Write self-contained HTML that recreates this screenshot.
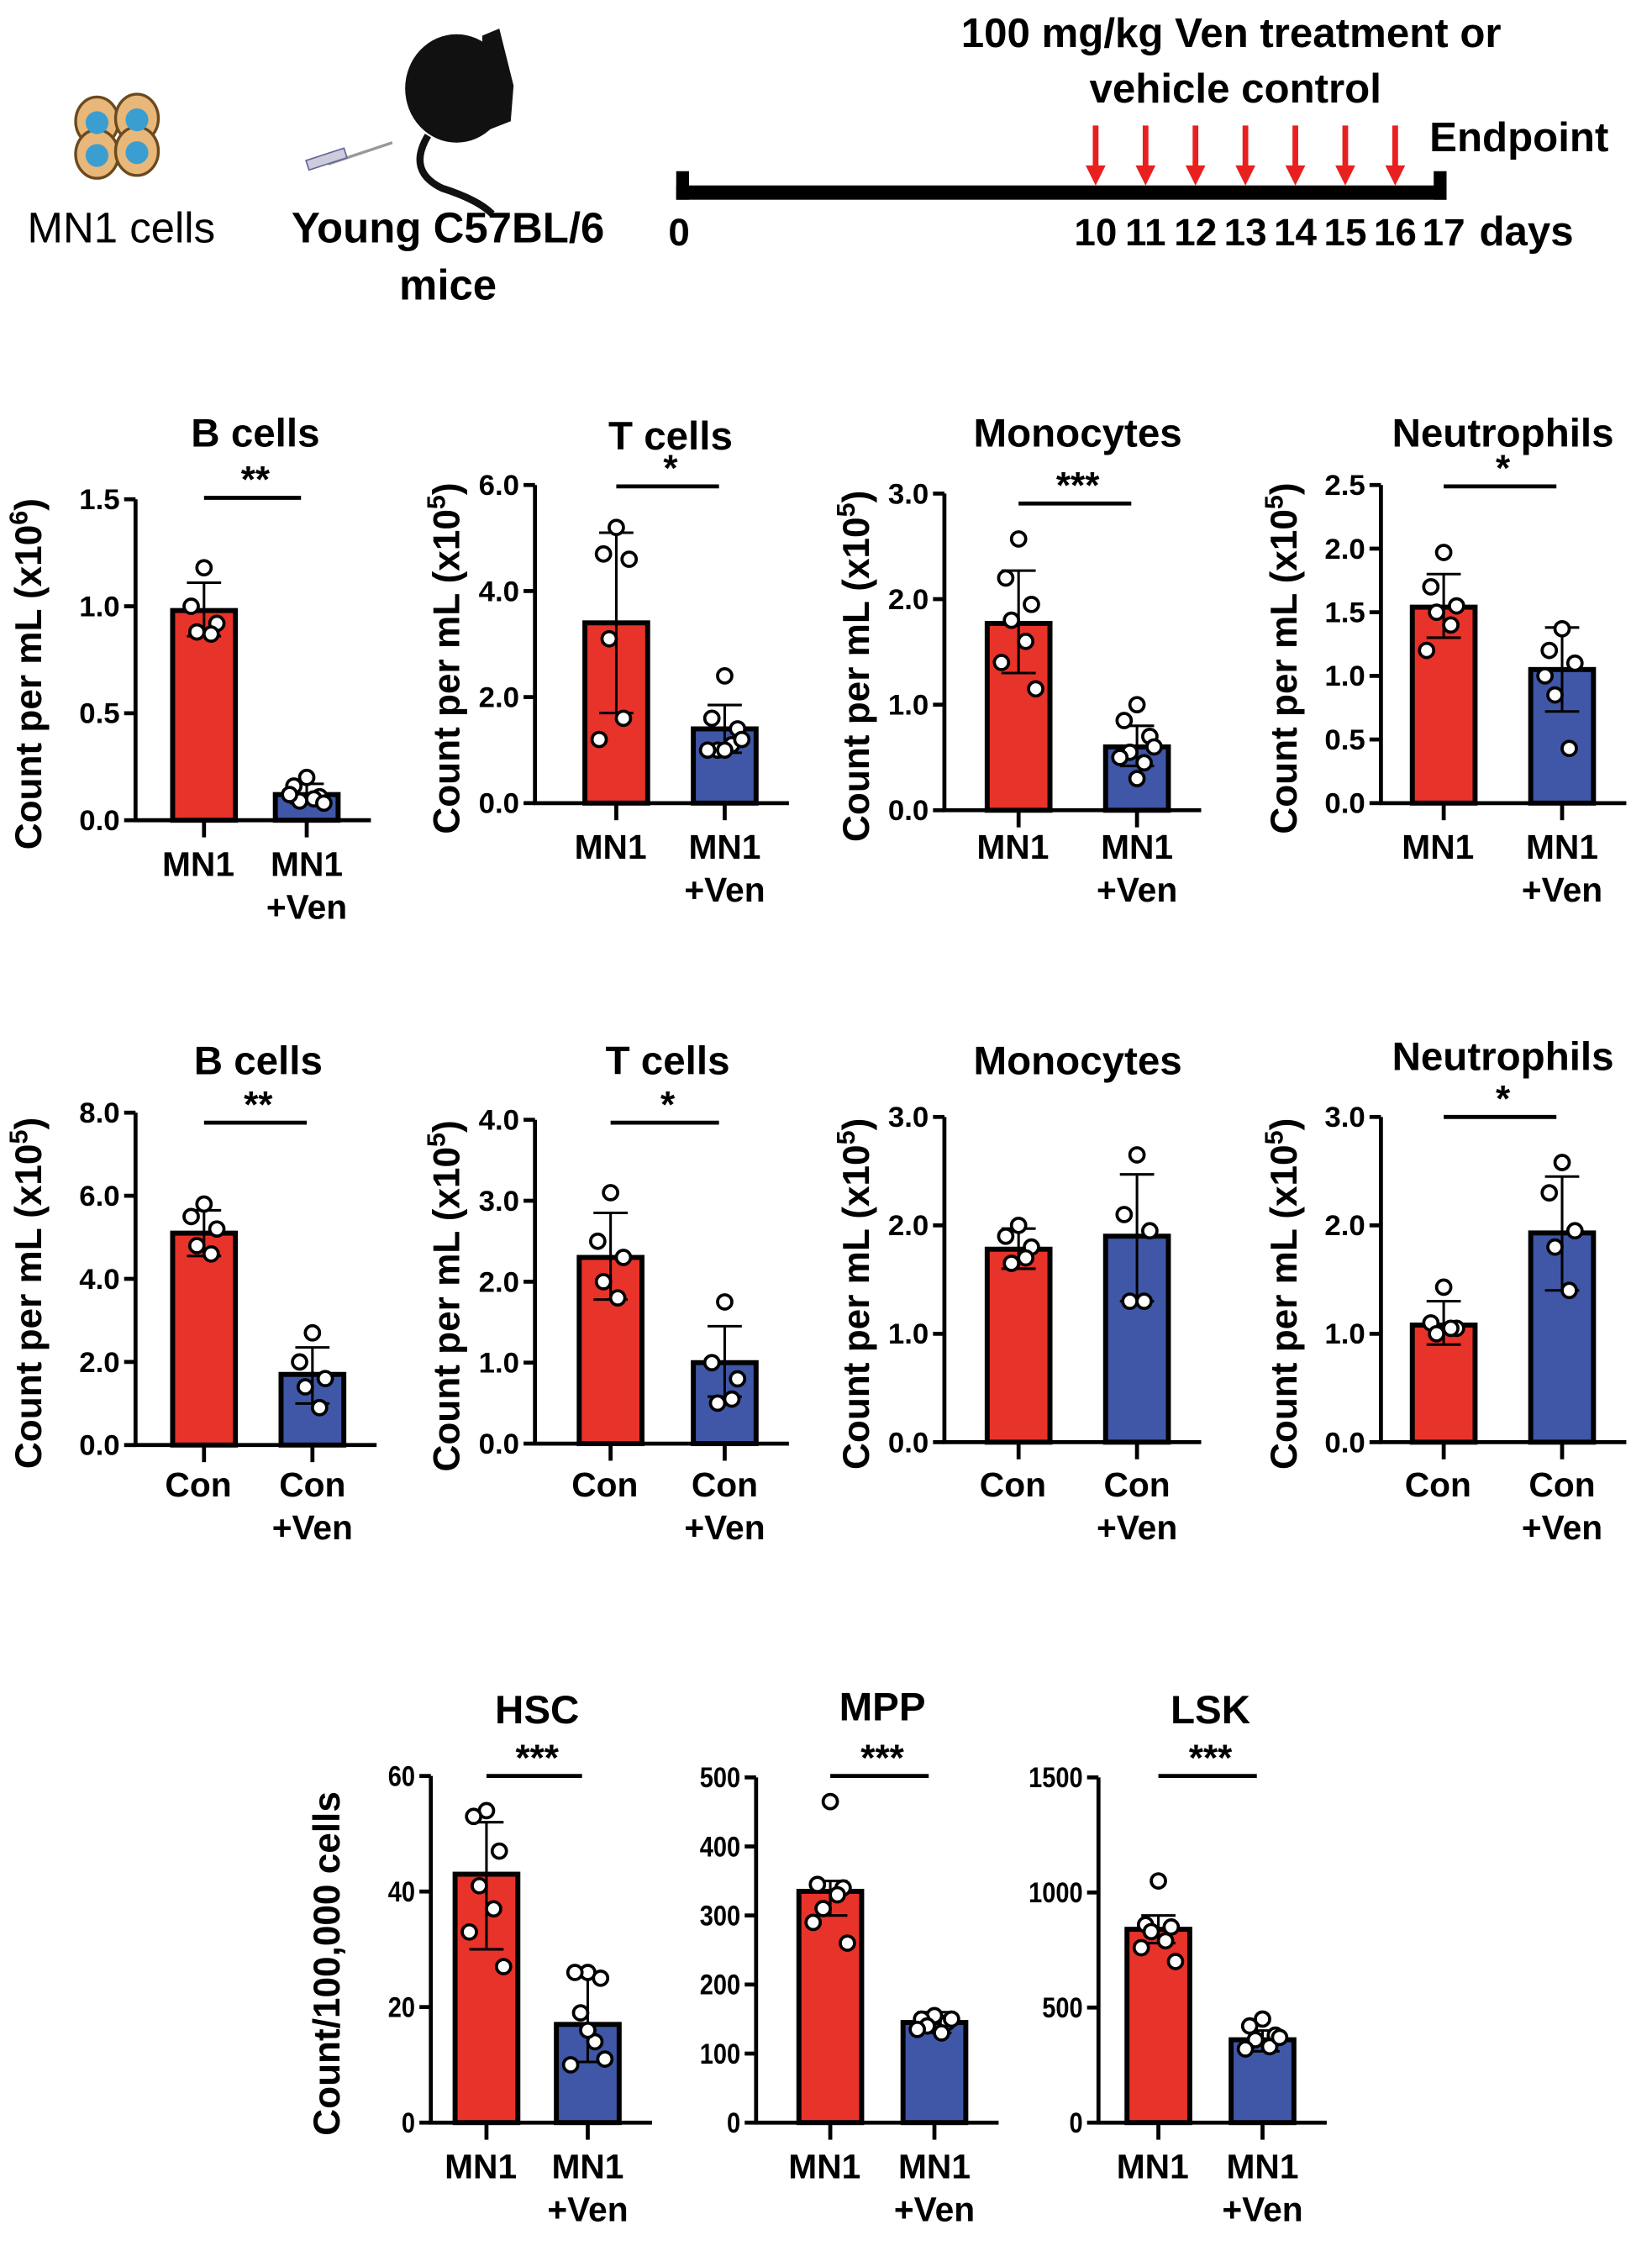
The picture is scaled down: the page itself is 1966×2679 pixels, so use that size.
<!DOCTYPE html>
<html><head><meta charset="utf-8"><style>
html,body{margin:0;padding:0;background:#fff;}
svg{display:block;}
text{font-family:"Liberation Sans",Arial,sans-serif;font-weight:bold;fill:#000;}
</style></head><body>
<svg id="fig" width="1966" height="2679" viewBox="0 0 1158 1578" xmlns="http://www.w3.org/2000/svg">
<g>
  <g>
    <ellipse cx="68" cy="85" rx="15" ry="17" fill="#e8b77a" stroke="#6b4a1e" stroke-width="2"/>
    <ellipse cx="96" cy="83" rx="15" ry="17" fill="#e8b77a" stroke="#6b4a1e" stroke-width="2"/>
    <ellipse cx="68" cy="108" rx="15" ry="17" fill="#e8b77a" stroke="#6b4a1e" stroke-width="2"/>
    <ellipse cx="96" cy="106" rx="15" ry="17" fill="#e8b77a" stroke="#6b4a1e" stroke-width="2"/>
    <circle cx="68" cy="86" r="8" fill="#3b9ed0"/><circle cx="96" cy="84" r="8" fill="#3b9ed0"/>
    <circle cx="68" cy="109" r="8" fill="#3b9ed0"/><circle cx="96" cy="107" r="8" fill="#3b9ed0"/>
  </g>
  <text x="85" y="170" font-size="30" text-anchor="middle" style="font-weight:normal">MN1 cells</text>
  <g>
    <ellipse cx="320" cy="62" rx="36" ry="38" fill="#111"/>
    <path d="M338 25 L350 20 L360 60 L358 85 L340 92 Z" fill="#111"/>
    <path d="M300 95 Q285 120 310 132 Q335 140 345 150" stroke="#111" stroke-width="5" fill="none"/>
    <line x1="275" y1="100" x2="230" y2="115" stroke="#999" stroke-width="2"/>
    <rect x="215" y="108" width="28" height="7" fill="#ccd" stroke="#669" transform="rotate(-18 229 112)"/>
  </g>
  <text x="314" y="170" font-size="30" text-anchor="middle">Young C57BL/6</text>
  <text x="314" y="210" font-size="30" text-anchor="middle">mice</text>
  <text x="863" y="33" font-size="29" text-anchor="middle">100 mg/kg Ven treatment or</text>
  <text x="866" y="72" font-size="29" text-anchor="middle">vehicle control</text>
  <text x="1002" y="106" font-size="29">Endpoint</text>
  <g>
    <rect x="474" y="130" width="540" height="10" fill="#000"/>
    <rect x="474" y="120" width="9" height="20" fill="#000"/>
    <rect x="1005" y="120" width="9" height="20" fill="#000"/>
  </g>
  <g id="arrows"></g>
  <g id="days"></g>
</g>
<g id="charts"></g>
</svg>
<script>
// timeline data
const doseDays = [10,11,12,13,14,15,16];
const dayLabels = ["0","10","11","12","13","14","15","16","17"];
const dayPositions = [476,768,803,838,873,908,943,978,1012];

// chart data (one set of arrays per chart)
const titles = ["B cells","T cells","Monocytes","Neutrophils","B cells","T cells","Monocytes","Neutrophils","HSC","MPP","LSK"];
const yTitles = ["Count per mL (x10","Count per mL (x10","Count per mL (x10","Count per mL (x10","Count per mL (x10","Count per mL (x10","Count per mL (x10","Count per mL (x10","Count/100,000 cells","",""];
const yExps = ["6","5","5","5","5","5","5","5","","",""];
const yMax = [1.5,6,3,2.5,8,4,3,3,60,500,1500];
const yTicks = [[0,0.5,1,1.5],[0,2,4,6],[0,1,2,3],[0,0.5,1,1.5,2,2.5],[0,2,4,6,8],[0,1,2,3,4],[0,1,2,3],[0,1,2,3],[0,20,40,60],[0,100,200,300,400,500],[0,500,1000,1500]];
const tickDecimals = [1,1,1,1,1,1,1,1,0,0,0];
const groupA = ["MN1","MN1","MN1","MN1","Con","Con","Con","Con","MN1","MN1","MN1"];
const groupB = ["MN1","MN1","MN1","MN1","Con","Con","Con","Con","MN1","MN1","MN1"];
const sig = ["**","*","***","*","**","*","","*","***","***","***"];
const meanA = [0.98,3.4,1.77,1.54,5.1,2.3,1.78,1.08,43,335,840];
const errA = [[0.86,1.11],[1.7,5.1],[1.3,2.27],[1.3,1.8],[4.55,5.65],[1.78,2.85],[1.6,1.97],[0.9,1.3],[30,52],[300,350],[780,900]];
const ptsA = [[1.18,1.0,0.92,0.88,0.87],[5.2,4.7,4.6,3.1,1.6,1.2],[2.57,2.2,1.95,1.8,1.6,1.4,1.15],[1.97,1.7,1.55,1.5,1.4,1.2],[5.8,5.5,5.2,4.8,4.6],[3.1,2.5,2.3,2.0,1.8],[2.0,1.9,1.8,1.65,1.7],[1.43,1.1,1.05,1.0,1.05],[54,53,47,41,37,33,27],[465,345,340,310,330,290,260],[1050,860,850,830,790,760,700]];
const meanB = [0.12,1.4,0.6,1.05,1.7,1.0,1.9,1.93,17,145,360];
const errB = [[0.08,0.17],[0.95,1.85],[0.42,0.8],[0.72,1.38],[1.0,2.35],[0.58,1.45],[1.3,2.47],[1.4,2.45],[10.5,25.5],[130,160],[310,400]];
const ptsB = [[0.2,0.16,0.11,0.09,0.1,0.12,0.08],[2.4,1.6,1.4,1.0,1.1,1.0,1.2,1.0],[1.0,0.85,0.7,0.55,0.45,0.5,0.6,0.3],[1.37,1.2,1.1,0.85,0.43,1.0],[2.7,2.0,1.6,1.4,0.9],[1.75,1.0,0.8,0.5,0.55],[2.65,2.1,1.95,1.3,1.3],[2.58,2.3,1.95,1.8,1.4],[26,26,25,19,14,10,11,16],[155,150,145,140,130,135,150],[450,420,380,360,330,320,370]];
</script>
<script>
const NS="http://www.w3.org/2000/svg";
function mk(tag,attrs,parent,txt){const e=document.createElementNS(NS,tag);for(const k in attrs)e.setAttribute(k,attrs[k]);if(txt!==undefined)e.textContent=txt;parent.appendChild(e);return e;}
const arrG=document.getElementById('arrows');
doseDays.forEach((d,i)=>{
  const x=dayPositions[i+1];
  const g=mk('g',{},arrG);
  
  
  mk('line',{x1:x,y1:88,x2:x,y2:118,stroke:'#e8201f','stroke-width':4},g);
  mk('polygon',{points:(x-7)+',116 '+(x+7)+',116 '+x+',130',fill:'#e8201f'},g);
});
const dG=document.getElementById('days');
dayLabels.forEach((l,i)=>{
  const t=mk('text',{x:dayPositions[i],y:172,'font-size':27,'text-anchor':'middle'},dG,l);
  
  
});
const dt=mk('text',{x:1070,y:172,'font-size':29,'text-anchor':'middle'},dG,'days');



const L=[
 {ax:95,y0:575,yt:350,ca:143,cb:215,ty:313,sy:349,lx:20,xl:614},
 {ax:375,y0:563,yt:340,ca:432,cb:508,ty:315,sy:341,lx:313,xl:602},
 {ax:662,y0:568,yt:346,ca:714,cb:797,ty:313,sy:353,lx:600,xl:602},
 {ax:968,y0:563,yt:340,ca:1012,cb:1095,ty:313,sy:341,lx:900,xl:602},
 {ax:95,y0:1013,yt:780,ca:143,cb:219,ty:753,sy:787,lx:20,xl:1049},
 {ax:375,y0:1012,yt:785,ca:428,cb:508,ty:753,sy:787,lx:313,xl:1049},
 {ax:662,y0:1011,yt:783,ca:714,cb:797,ty:753,sy:0,lx:600,xl:1049},
 {ax:968,y0:1011,yt:783,ca:1012,cb:1095,ty:750,sy:783,lx:900,xl:1049},
 {ax:302,y0:1488,yt:1245,ca:341,cb:412,ty:1208,sy:1245,lx:229,xl:1527},
 {ax:530,y0:1488,yt:1246,ca:582,cb:655,ty:1206,sy:1245,lx:0,xl:1527},
 {ax:770,y0:1488,yt:1246,ca:812,cb:885,ty:1208,sy:1245,lx:0,xl:1527}];
const root=document.getElementById('charts');
const jit=[0,-9,9,-5,5,-12,12,0];
titles.forEach((title,i)=>{
  const p=L[i];
  const g=mk('g',{},root);
  
  
  const y=v=>p.y0-(v/yMax[i])*(p.y0-p.yt);
  const right=p.cb+45;
  const bw=44;
  const tt=mk('text',{x:(p.ca+p.cb)/2,y:p.ty,'font-size':28,'text-anchor':'middle'},g,title);
  
  
  [[meanA,errA,ptsA,p.ca,'#e8332a','bar-group-a'],[meanB,errB,ptsB,p.cb,'#3f57a6','bar-group-b']].forEach(([m,e,pts,c,col,nm])=>{
    const r=mk('rect',{x:c-bw/2,y:y(m[i]),width:bw,height:p.y0-y(m[i]),fill:col,stroke:'#000','stroke-width':3.5},g);
    
    
    const eg=mk('g',{stroke:'#000','stroke-width':1.8},g);
    
    
    mk('line',{x1:c,y1:y(e[i][0]),x2:c,y2:y(e[i][1])},eg);
    mk('line',{x1:c-12,y1:y(e[i][0]),x2:c+12,y2:y(e[i][0])},eg);
    mk('line',{x1:c-12,y1:y(e[i][1]),x2:c+12,y2:y(e[i][1])},eg);
    pts[i].forEach((v,k)=>{
      const ci=mk('circle',{cx:c+jit[k%jit.length],cy:y(v),r:5,fill:'#fff',stroke:'#000','stroke-width':2.2},g);
      
      
    });
  });
  const ax=mk('g',{stroke:'#000','stroke-width':2.8},g);
  
  
  mk('line',{x1:p.ax,y1:p.yt,x2:p.ax,y2:p.y0+1},ax);
  mk('line',{x1:p.ax-1,y1:p.y0,x2:right,y2:p.y0},ax);
  mk('line',{x1:p.ca,y1:p.y0,x2:p.ca,y2:p.y0+12},ax);
  mk('line',{x1:p.cb,y1:p.y0,x2:p.cb,y2:p.y0+12},ax);
  yTicks[i].forEach(v=>{
    mk('line',{x1:p.ax-8,y1:y(v),x2:p.ax,y2:y(v)},ax);
    const lab=v.toFixed(tickDecimals[i]);
    const t=mk('text',{x:p.ax-11,y:y(v)+7,'font-size':20,'text-anchor':'end',textLength:lab.length*9.5,lengthAdjust:'spacingAndGlyphs'},g,lab);
    
    
  });
  const xa=mk('text',{x:p.ca-4,y:p.xl,'font-size':24,'text-anchor':'middle'},g,groupA[i]);
  
  
  const xb=mk('text',{x:p.cb,y:p.xl,'font-size':24,'text-anchor':'middle'},g,groupB[i]);
  
  
  const xv=mk('text',{x:p.cb,y:p.xl+30,'font-size':24,'text-anchor':'middle'},g,'+Ven');
  
  
  if(sig[i]){
    mk('line',{x1:p.ca,y1:p.sy,x2:p.cb-4,y2:p.sy,stroke:'#000','stroke-width':2.8},g);
    const s=mk('text',{x:(p.ca+p.cb)/2,y:p.sy-4,'font-size':26,'text-anchor':'middle'},g,sig[i]);
    
    
  }
  if(yTitles[i]){
    const cy=(p.y0+p.yt)/2+10;
    const yt=mk('text',{x:p.lx,y:cy,'font-size':26,'text-anchor':'middle',transform:'rotate(-90 '+p.lx+' '+cy+')',dy:'9'},g);
    
    
    mk('tspan',{},yt,yTitles[i]);
    if(yExps[i]){mk('tspan',{dy:'-10','font-size':18},yt,yExps[i]);mk('tspan',{dy:'10'},yt,')');}
  }
});
</script>
</body></html>
